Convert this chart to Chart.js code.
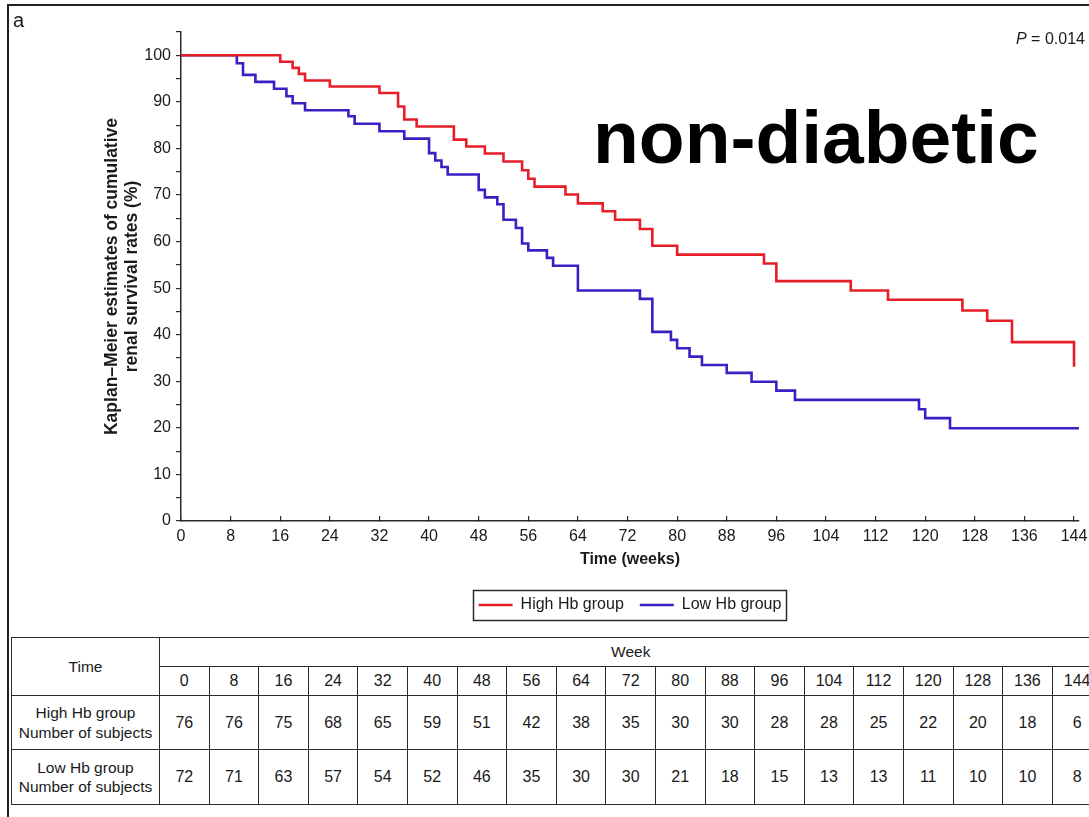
<!DOCTYPE html>
<html><head><meta charset="utf-8">
<script src="https://cdn.jsdelivr.net/npm/chart.js@4.4.1/dist/chart.umd.min.js"></script>
<style>
html,body{margin:0;padding:0;background:#fff;}
body{width:1089px;height:817px;overflow:hidden;position:relative;font-family:'Liberation Sans',Arial,sans-serif;color:#1a1a1a;}
#frame{position:absolute;left:7px;top:4px;width:1200px;height:1200px;border-left:2px solid #222;border-top:2px solid #222;}
#c{position:absolute;left:0;top:0;}
.lbl{position:absolute;white-space:nowrap;line-height:1;}
table{position:absolute;left:11px;top:637px;border-collapse:collapse;table-layout:fixed;width:1091px;font-size:16px;}
td{border:1.6px solid #2a2a2a;text-align:center;padding:0;line-height:1.25;}
td.rh{font-size:15.5px;}
</style>
</head><body>
<div id="frame"></div>
<canvas id="c" width="1089" height="623"></canvas>
<div class="lbl" style="left:13px;top:10px;font-size:20px;">a</div>
<div class="lbl" style="left:1016px;top:31px;font-size:16px;"><i>P</i> = 0.014</div>
<div class="lbl" style="left:593px;top:100px;font-size:75px;font-weight:bold;color:#000;">non-diabetic</div>
<table id="tbl"></table>
<script>
// ---- data ----
const weekLabels = [0,8,16,24,32,40,48,56,64,72,80,88,96,104,112,120,128,136,144];
const highN = [76,76,75,68,65,59,51,42,38,35,30,30,28,28,25,22,20,18,6];
const lowN  = [72,71,63,57,54,52,46,35,30,30,21,18,15,13,13,11,10,10,8];

const highTimes = [0,16,18,19,20,24,32,35,36,38,44,46,49,52,55,56,57,62,64,68,70,74,76,80,94,96,108,114,126,130,134,144];
const highSurv  = [100,98.6,97.3,96.0,94.6,93.3,91.9,89.0,86.2,84.7,81.9,80.4,78.9,77.2,75.3,73.5,71.8,70.1,68.2,66.5,64.7,62.7,59.1,57.2,55.3,51.5,49.5,47.5,45.2,43.0,38.4,33.1];

const lowTimes = [0,9,10,12,15,17,18,20,27,28,32,36,40,41,42,43,48,49,51,52,54,55,56,59,60,64,74,76,79,80,82,84,88,92,96,99,119,120,124,144.8];
const lowSurv  = [100,98.3,95.8,94.3,92.8,91.2,89.7,88.2,86.9,85.3,83.7,82.1,79.0,77.4,76.0,74.4,71.1,69.5,68.0,64.7,62.9,59.6,58.1,56.5,54.8,49.5,47.7,40.6,38.9,37.1,35.3,33.5,31.8,29.9,28.0,26.0,24.0,22.1,19.9,19.9];

const seriesNames = ['High Hb group','Low Hb group'];
const seriesColors = ['#e61e28','#3a1fc2'];

// ---- table ----
(function(){
  const t = document.getElementById('tbl');
  let h = '<colgroup><col style="width:148px">' + weekLabels.map(()=>'<col style="width:49.6px">').join('') + '</colgroup>';
  h += '<tr style="height:29px"><td rowspan="2" class="rh">Time</td><td colspan="'+weekLabels.length+'" class="rh">Week</td></tr>';
  h += '<tr style="height:29px">' + weekLabels.map(w=>'<td>'+w+'</td>').join('') + '</tr>';
  h += '<tr style="height:54px"><td class="rh">High Hb group<br>Number of subjects</td>' + highN.map(v=>'<td>'+v+'</td>').join('') + '</tr>';
  h += '<tr style="height:55px"><td class="rh">Low Hb group<br>Number of subjects</td>' + lowN.map(v=>'<td>'+v+'</td>').join('') + '</tr>';
  t.innerHTML = h;
})();

// ---- chart ----
const toPts = (xs, ys) => xs.map((x,i)=>({x:x, y:ys[i]}));

const legendBox = {
  id:'legendBox',
  afterDraw(chart){
    const hb = chart.legend && chart.legend.legendHitBoxes;
    if(!hb || !hb.length) return;
    let l=Infinity,r=-Infinity,t=Infinity,b=-Infinity;
    hb.forEach(h=>{l=Math.min(l,h.left);r=Math.max(r,h.left+h.width);t=Math.min(t,h.top);b=Math.max(b,h.top+h.height);});
    const ctx = chart.ctx;
    ctx.save();
    ctx.strokeStyle='#2a2a2a';ctx.lineWidth=1.5;
    ctx.strokeRect(Math.round(l-6)+0.5, Math.round(t-7)+0.5, Math.round(r-l+10), Math.round(b-t+14));
    ctx.restore();
  }
};

Chart.defaults.font.family = "'Liberation Sans', Arial, sans-serif";
Chart.defaults.color = '#1a1a1a';

new Chart(document.getElementById('c'), {
  type:'line',
  data:{
    datasets:[
      {label:seriesNames[0], data:toPts(highTimes,highSurv), borderColor:seriesColors[0], backgroundColor:seriesColors[0], borderWidth:2.6, pointRadius:0, stepped:'before', fill:false},
      {label:seriesNames[1], data:toPts(lowTimes,lowSurv), borderColor:seriesColors[1], backgroundColor:seriesColors[1], borderWidth:2.6, pointRadius:0, stepped:'before', fill:false}
    ]
  },
  options:{
    responsive:false, devicePixelRatio:1, animation:false,
    layout:{padding:{top:32,right:10,left:0,bottom:0}},
    plugins:{
      tooltip:{enabled:false},
      legend:{
        position:'bottom', fullSize:false,
        labels:{usePointStyle:true, pointStyle:'line', pointStyleWidth:34, boxHeight:14, padding:16, font:{size:16}, color:'#1a1a1a'}
      }
    },
    scales:{
      x:{
        type:'linear', min:0, max:144.8,
        border:{color:'#2a2a2a', width:1.5},
        grid:{display:true, drawOnChartArea:false, tickLength:-5, color:'#2a2a2a', lineWidth:1.2},
        ticks:{stepSize:8, includeBounds:false, padding:11, font:{size:16}, color:'#1a1a1a', maxRotation:0, autoSkip:false},
        title:{display:true, text:'Time (weeks)', font:{size:16, weight:'bold'}, color:'#1a1a1a', padding:{top:0,bottom:12}},
        afterFit(s){ s.height = 60; s.paddingRight = 0; s.paddingLeft = 0; }
      },
      y:{
        min:0, max:105,
        border:{color:'#2a2a2a', width:1.5},
        grid:{display:true, drawOnChartArea:false, tickLength:5, color:'#2a2a2a', lineWidth:1.2},
        ticks:{stepSize:5, padding:5, font:{size:16}, color:'#1a1a1a', autoSkip:false,
          callback:(v)=> (v % 10 === 0 && v <= 100) ? String(v) : ''},
        title:{display:true, text:['Kaplan\u2013Meier estimates of cumulative','renal survival rates (%)'], font:{size:17.5, weight:'bold', lineHeight:1.1}, color:'#1a1a1a', padding:{top:103,bottom:0}},
        afterFit(s){ s.width = 181; s.paddingTop = 0; s.paddingBottom = 0; }
      }
    }
  },
  plugins:[legendBox]
});
</script>
</body></html>
